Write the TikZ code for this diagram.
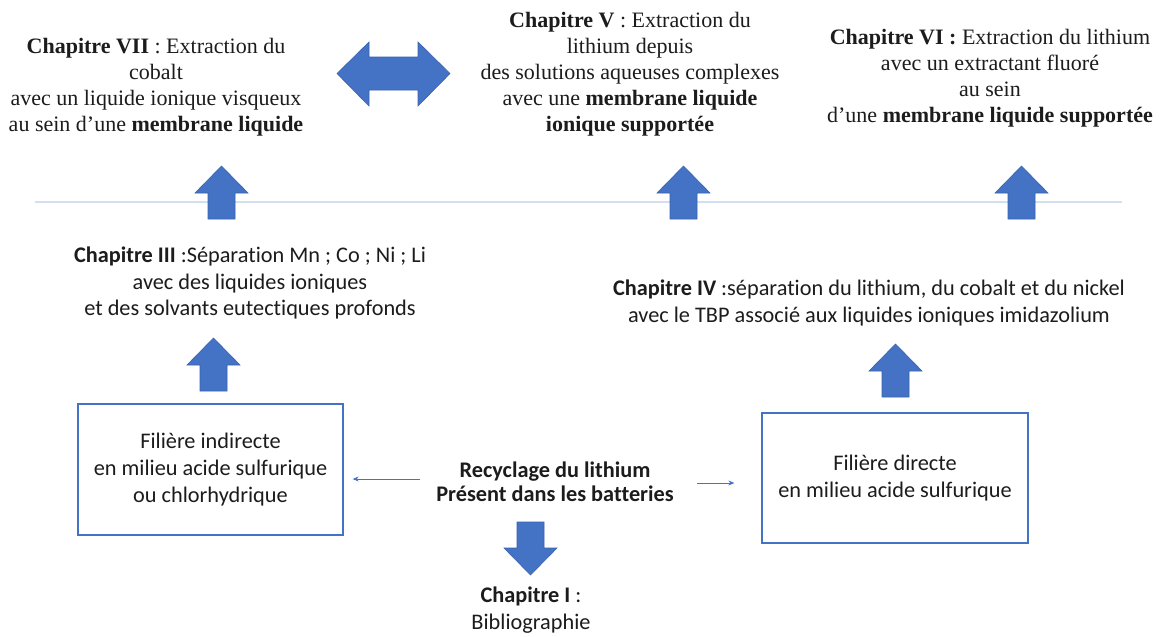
\documentclass[tikz,border=0pt]{standalone}
\usepackage{fontspec}
\setmainfont{Liberation Serif}
\newfontfamily\timesf{Liberation Serif}
\newfontfamily\calibri[Ligatures=NoCommon]{Carlito}
\usetikzlibrary{arrows.meta}
\definecolor{officeblue}{HTML}{4472C4}
\definecolor{arrowedge}{HTML}{3A63AE}
\definecolor{sepline}{HTML}{D3DEF1}
\definecolor{txt}{HTML}{1C1C1C}
\tikzset{
  blockarrow/.style={fill=officeblue, draw=arrowedge, line width=0.6pt, line join=miter},
  serifbox/.style={align=center, text=txt, inner sep=0pt, font=\timesf\fontsize{22}{26}\selectfont},
  sansbox/.style={align=center, text=txt, inner sep=0pt, font=\calibri\fontsize{22.3}{26.5}\selectfont},
  filbox/.style={draw=officeblue, line width=1.3pt, align=center, text=txt, inner sep=0pt, font=\calibri\fontsize{22.3}{27}\selectfont},
  thinarrow/.style={draw=officeblue, line width=0.9pt, -{Stealth[length=6pt,width=5pt]}},
  uparr/.pic={\filldraw[blockarrow] (-13.5,0) -- (-13.5,-26) -- (-26.5,-26) -- (0,-53) -- (26.5,-26) -- (13.5,-26) -- (13.5,0) -- cycle;}
}
\begin{document}
\begin{tikzpicture}[x=1pt,y=-1pt]
\useasboundingbox[fill=white] (0,0) rectangle (1167,637);

% separator line
\draw[sepline, line width=1.5pt] (35,202) -- (1122,202);

% top chapters
\node[serifbox] (c7) at (156,87) {\textbf{Chapitre VII} : Extraction du\\cobalt\\avec un liquide ionique visqueux\\au sein d’une \textbf{membrane liquide}};
\node[serifbox] (c5) at (630,74.5) {\textbf{Chapitre V} : Extraction du\\lithium depuis\\des solutions aqueuses complexes\\avec une \textbf{membrane liquide}\\\textbf{ionique supportée}};
\node[serifbox] (c6) at (990,78) {\textbf{Chapitre VI :} Extraction du lithium\\avec un extractant fluoré\\au sein\\d’une \textbf{membrane liquide supportée}};

% double arrow between VII and V
\filldraw[blockarrow] (337,73.5) -- (369,42) -- (369,57) -- (418,57) -- (418,42) -- (450,73.5) -- (418,106) -- (418,90) -- (369,90) -- (369,106) -- cycle;

% up arrows across the line
\pic at (221.5,219) {uparr};
\pic at (683.5,219) {uparr};
\pic at (1021.5,219) {uparr};

% middle chapters
\node[sansbox] (c3) at (250,283) {\textbf{Chapitre III} :Séparation Mn ; Co ; Ni ; Li\\avec des liquides ioniques\\et des solvants eutectiques profonds};
\node[sansbox] (c4) at (869,303) {\textbf{Chapitre IV} :séparation du lithium, du cobalt et du nickel\\avec le TBP associé aux liquides ioniques imidazolium};

\pic at (213.5,391) {uparr};
\pic at (895.5,397) {uparr};

% boxes
\node[filbox, minimum width=265pt, minimum height=131pt] (lbox) at (210.5,469.5) {Filière indirecte\\en milieu acide sulfurique\\ou chlorhydrique};
\node[filbox, minimum width=266pt, minimum height=130pt] (rbox) at (895,478) {Filière directe\\en milieu acide sulfurique};

% centre
\node[sansbox, font=\calibri\bfseries\fontsize{22.3}{24.5}\selectfont] (rec) at (555,482) {Recyclage du lithium\\Présent dans les batteries};
\coordinate (la) at (420,479);
\coordinate (ra) at (697,483);
\draw[thinarrow] (la) -- ([xshift=9pt]lbox.east |- la);
\draw[thinarrow] (ra) -- ([xshift=-27pt]rbox.west |- ra);

\pic[rotate=180] at (530.5,522) {uparr};
\node[sansbox] (c1) at (531,610) {\textbf{Chapitre I} :\\Bibliographie};
\end{tikzpicture}
\end{document}
